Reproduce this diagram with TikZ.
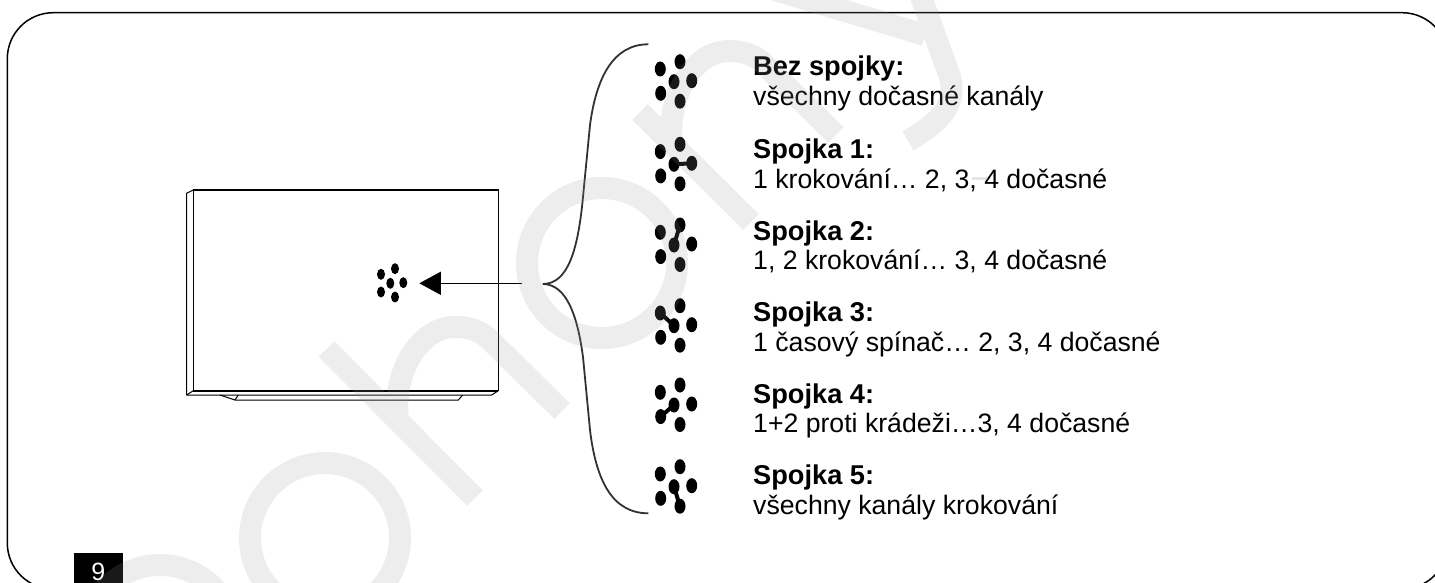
\documentclass[tikz,border=0pt]{standalone}
\usepackage{fontspec}
\setmainfont{Liberation Sans}
\usetikzlibrary{arrows.meta,shapes.geometric}
\tikzset{
  x=1pt,y=-1pt,
  dotbig/.style={draw=none,fill=black,ellipse,minimum width=11pt,minimum height=15pt,inner sep=0pt},
  dotsmall/.style={draw=none,fill=black,ellipse,minimum width=8pt,minimum height=11pt,inner sep=0pt},
  bridge/.style={line width=4pt,black},
  frameline/.style={line width=1.5pt,black},
  panelthin/.style={line width=1pt,black},
  panelthick/.style={line width=1.6pt,black},
  bracket/.style={line width=1.8pt,draw={rgb,255:red,50;green,50;blue,50}},
  pointer/.style={line width=1pt,black,-{Triangle[length=21.5pt,width=23pt]}},
  lab/.style={anchor=base west,inner sep=0pt,font=\fontsize{26.65}{30}\selectfont},
  labbold/.style={anchor=base west,inner sep=0pt,font=\fontsize{27.2}{30}\selectfont\bfseries},
  pagenum/.style={anchor=base,inner sep=0pt,text=white,font=\fontsize{25}{28}\selectfont},
  wmark/.style={line width=22pt,draw={rgb,255:red,153;green,153;blue,153},draw opacity=0.17,line cap=butt},
  wmarkdash/.style={line width=3pt,draw={rgb,255:red,153;green,153;blue,153},draw opacity=0.25},
}
\begin{document}
\begin{tikzpicture}
\useasboundingbox (0,0) rectangle (1435,583);
\fill[white] (0,0) rectangle (1435,583);
\begin{scope}
\clip (0,0) rectangle (1435,583);
\draw[frameline,rounded corners=46pt] (7.3,12.7) rectangle (1448,589);
\end{scope}
% panel
\draw[panelthin] (186.7,395) -- (186.7,193.3) -- (193.3,190);
\draw[panelthin] (186.7,395) -- (193.3,390.7);
\draw[panelthick] (193.3,390.7) -- (193.3,190) -- (498.3,190) -- (498.3,390.7);
\draw[panelthick] (193.3,390.7) -- (498.3,390.7);
\draw[panelthin] (186.7,395) -- (491.7,395) -- (498.3,390.7);
\draw[panelthin] (220,395) -- (235,400) -- (458.3,400) -- (462.7,395);
\draw[panelthin] (238.3,395) -- (235,400);
% cluster on panel
\node[dotsmall] (pt) at (395,268.7) {};
\node[dotsmall] (pu) at (381,274.3) {};
\node[dotsmall] (pc) at (390.3,283.3) {};
\node[dotsmall] (pr) at (403.3,282.7) {};
\node[dotsmall] (pd) at (381,292) {};
\node[dotsmall] (pb) at (395,297) {};
% clusters
\foreach \n/\y in {1/61.7,2/144.3,3/225,4/305.7,5/385,6/466.7}{
  \node[dotbig] (c\n t) at (680,\y) {};
  \node[dotbig] (c\n u) at (660.3,\y+7.3) {};
  \node[dotbig] (c\n c) at (674,\y+20) {};
  \node[dotbig] (c\n r) at (691.7,\y+19) {};
  \node[dotbig] (c\n d) at (660.7,\y+31.6) {};
  \node[dotbig] (c\n b) at (680,\y+39.5) {};
}
\draw[bridge] (c2c.center) -- (c2r.center);
\draw[bridge] (c3c.center) -- (c3t.center);
\draw[bridge] (c4c.center) -- (c4u.center);
\draw[bridge] (c5c.center) -- (c5d.center);
\draw[bridge] (c6c.center) -- (c6b.center);
% brace
\coordinate (bracetop) at (648.3,44.3);
\coordinate (bracetip) at (542.7,284);
\coordinate (bracebot) at (648.3,513.3);
\coordinate (armstart) at (522,283.3);
\coordinate (armend) at (419.3,283.3);
\draw[bracket] (bracetop) .. controls (612,44.3) and (596,80) .. (590,125)
  -- (583,197) .. controls (578,250) and (568,284) .. (bracetip)
  .. controls (568,284) and (578,320) .. (583,357)
  -- (590,430) .. controls (596,480) and (612,513.3) .. (bracebot);
\draw[pointer] (armstart) -- (armend);
% labels
\node[labbold] (h0) at (753,76) {Bez spojky:};
\node[lab] (t0) at (753,106) {všechny dočasné kanály};
\node[labbold] (h1) at (753,158) {Spojka 1:};
\node[lab] (t1) at (753,188) {1 krokování… 2, 3, 4 dočasné};
\node[labbold] (h2) at (753,240) {Spojka 2:};
\node[lab] (t2) at (753,269) {1, 2 krokování… 3, 4 dočasné};
\node[labbold] (h3) at (753,321) {Spojka 3:};
\node[lab] (t3) at (753,351) {1 časový spínač… 2, 3, 4 dočasné};
\node[labbold] (h4) at (753,403) {Spojka 4:};
\node[lab] (t4) at (753,432) {1+2 proti krádeži…3, 4 dočasné};
\node[labbold] (h5) at (753,484) {Spojka 5:};
\node[lab] (t5) at (753,514) {všechny kanály krokování};
% page number
\fill[black] (74,553) rectangle (123,583);
\node[pagenum] (pg) at (98.4,580.5) {9};
% watermark
\begin{scope}
\clip (0,0) rectangle (1435,583);
\draw[wmark]
  (326.5,349) -- (475,498)
  (398,420) .. controls (392,372) and (420,327) .. (455,327)
    .. controls (468,327) and (480,330) .. (490,340) -- (562,411)
  (672,144) .. controls (666,96) and (694,51) .. (729,51)
    .. controls (742,51) and (754,54) .. (764,64) -- (836,135)
  (640,112) -- (751,222)
  (602,263) circle[radius=75pt]
  (325,538) circle[radius=75pt]
  (160,640) circle[radius=75pt]
  (775,-10) -- (925,35)
  (915,-20) -- (950,77) .. controls (957,105) and (940,122) .. (908,141);
\draw[wmarkdash] (972,178) -- (988,178);
\end{scope}
\end{tikzpicture}
\end{document}
